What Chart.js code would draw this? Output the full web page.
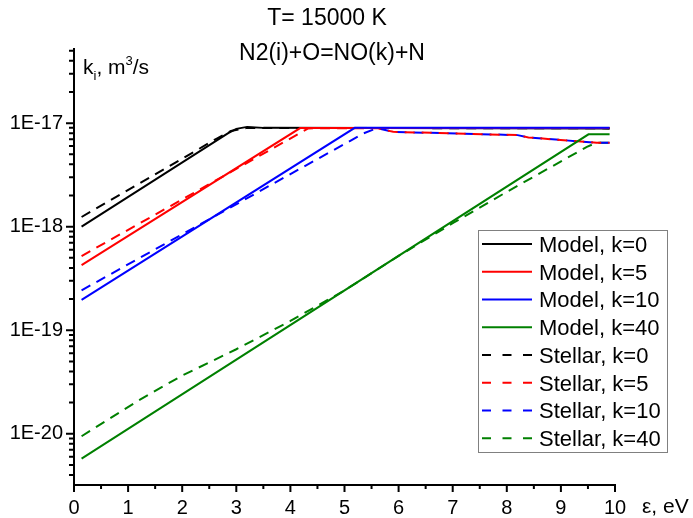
<!DOCTYPE html>
<html>
<head>
<meta charset="utf-8">
<script src="https://cdn.jsdelivr.net/npm/chart.js@4.4.1/dist/chart.umd.min.js"></script>
<style>
  html, body { margin: 0; padding: 0; background: #fff; }
  #wrap { width: 693px; height: 518px; position: relative; }
</style>
</head>
<body>
<div id="wrap"><canvas id="c" width="693" height="518"></canvas></div>
<script>
// energies (eV) and rate coefficients (m^3/s)
const eModel0 = [0.14, 2.85, 3.00, 3.20, 3.50, 9.90];
const kModel0 = [1.0e-18, 8.0e-18, 8.8e-18, 9.2e-18, 9.0e-18, 8.9e-18];

const eModel5 = [0.14, 4.18, 9.90];
const kModel5 = [4.25e-19, 8.95e-18, 8.95e-18];

const eModel10 = [0.14, 5.19, 9.90];
const kModel10 = [1.96e-19, 9.0e-18, 9.0e-18];

const eModel40 = [0.14, 9.51, 9.90];
const kModel40 = [5.75e-21, 7.8e-18, 7.8e-18];

const eStellar0 = [0.14, 2.64, 2.90, 3.20, 9.90];
const kStellar0 = [1.24e-18, 7.1e-18, 8.4e-18, 9.0e-18, 8.9e-18];

const eStellar5 = [0.14, 4.33, 5.60, 5.90, 8.20, 8.40, 9.66, 9.90];
const kStellar5 = [5.2e-19, 8.9e-18, 8.95e-18, 8.24e-18, 7.66e-18, 7.28e-18, 6.46e-18, 6.46e-18];

const eStellar10 = [0.14, 5.35, 5.60, 5.90, 8.20, 8.40, 9.66, 9.90];
const kStellar10 = [2.43e-19, 7.95e-18, 8.95e-18, 8.24e-18, 7.66e-18, 7.28e-18, 6.46e-18, 6.46e-18];

const eStellar40 = [0.14, 1.2, 2.0, 3.0, 4.0, 5.0, 6.0, 7.0, 8.0, 8.55, 9.48, 9.66, 9.90];
const kStellar40 = [9.46e-21, 2.11e-20, 3.65e-20, 6.55e-20, 1.23e-19, 2.42e-19, 5.22e-19, 1.08e-18, 2.17e-18, 3.15e-18, 5.90e-18, 6.46e-18, 6.46e-18];

const xTicks = [0, 1, 2, 3, 4, 5, 6, 7, 8, 9, 10];

const FONT = "'Liberation Sans', Arial, sans-serif";
const BLACK = '#000000', RED = '#ff0000', BLUE = '#0000ff', GREEN = '#008000';
const DASH = [10, 7];

const pts = (xs, ys) => xs.map((x, i) => ({ x, y: ys[i] }));

const series = [
  { label: 'Model, k=0',   data: pts(eModel0, kModel0),     color: BLACK, dash: [], order: 2 },
  { label: 'Model, k=5',   data: pts(eModel5, kModel5),     color: RED,   dash: [], order: 1 },
  { label: 'Model, k=10',  data: pts(eModel10, kModel10),   color: BLUE,  dash: [], order: 0 },
  { label: 'Model, k=40',  data: pts(eModel40, kModel40),   color: GREEN, dash: [], order: 3 },
  { label: 'Stellar, k=0', data: pts(eStellar0, kStellar0), color: BLACK, dash: DASH, order: 4 },
  { label: 'Stellar, k=5', data: pts(eStellar5, kStellar5), color: RED,   dash: DASH, order: 5 },
  { label: 'Stellar, k=10',data: pts(eStellar10, kStellar10), color: BLUE, dash: DASH, order: 6 },
  { label: 'Stellar, k=40',data: pts(eStellar40, kStellar40), color: GREEN, dash: DASH, order: 7 },
];

// titles, axis names, tick marks and the boxed legend (Origin look)
const decor = {
  id: 'decor',
  afterDraw(chart) {
    const ctx = chart.ctx;
    const xs = chart.scales.x, ys = chart.scales.y;
    const area = chart.chartArea;
    ctx.save();
    ctx.fillStyle = '#000';
    ctx.strokeStyle = '#000';

    // tick marks
    ctx.lineWidth = 2;
    ctx.beginPath();
    for (let v = 0; v <= 10.001; v += 0.5) {
      const px = xs.getPixelForValue(v);
      const len = Math.abs(v - Math.round(v)) < 1e-6 ? 7 : 4;
      ctx.moveTo(px, area.bottom);
      ctx.lineTo(px, area.bottom + len);
    }
    for (let p = -22; p <= -16; p++) {
      for (let m = 1; m <= 9; m++) {
        const val = m * Math.pow(10, p);
        if (val < ys.min || val > ys.max) continue;
        const py = ys.getPixelForValue(val);
        const len = m === 1 ? 8 : 5;
        ctx.moveTo(area.left, py);
        ctx.lineTo(area.left - len, py);
      }
    }
    ctx.stroke();

    // chart titles
    ctx.textAlign = 'center';
    ctx.textBaseline = 'alphabetic';
    ctx.font = '23px ' + FONT;
    ctx.fillText('T= 15000 K', 327, 25);
    ctx.fillText('N2(i)+O=NO(k)+N', 332, 60);

    // y axis name: k_i, m^3/s
    ctx.textAlign = 'left';
    let x = 83;
    const big = '21px ' + FONT, small = '13px ' + FONT;
    const put = (t, f, y) => { ctx.font = f; ctx.fillText(t, x, y); x += ctx.measureText(t).width; };
    put('k', big, 74);
    put('i', small, 80);
    put(', m', big, 74);
    put('3', small, 65);
    put('/s', big, 74);

    // x axis name
    ctx.font = '21px ' + FONT;
    ctx.fillText('\u03b5, eV', 642, 513);

    // legend
    const lx = 478.5, ly = 230.5, lw = 189, lh = 222;
    ctx.fillStyle = '#fff';
    ctx.fillRect(lx, ly, lw, lh);
    ctx.strokeStyle = '#808080';
    ctx.lineWidth = 1;
    ctx.setLineDash([]);
    ctx.strokeRect(lx, ly, lw, lh);
    ctx.font = '22px ' + FONT;
    chart.data.datasets.forEach((ds, i) => {
      const cy = 244 + i * 27.76;
      ctx.strokeStyle = ds.borderColor;
      ctx.lineWidth = 2;
      ctx.setLineDash(ds.borderDash.length ? [9, 11.5] : []);
      ctx.beginPath();
      ctx.moveTo(482, cy);
      ctx.lineTo(532, cy);
      ctx.stroke();
      ctx.setLineDash([]);
      ctx.fillStyle = '#000';
      ctx.fillText(ds.label, 539, cy + 7.9);
    });
    ctx.restore();
  }
};

new Chart(document.getElementById('c'), {
  type: 'line',
  data: {
    datasets: series.map(s => ({
      label: s.label,
      data: s.data,
      borderColor: s.color,
      backgroundColor: s.color,
      borderDash: s.dash,
      borderWidth: 2,
      pointRadius: 0,
      tension: 0,
      fill: false,
      order: s.order
    }))
  },
  options: {
    responsive: false,
    animation: false,
    events: [],
    layout: { padding: { left: 0, right: 78, top: 49, bottom: 0 } },
    plugins: { legend: { display: false }, tooltip: { enabled: false }, title: { display: false } },
    scales: {
      x: {
        type: 'linear',
        min: 0, max: 10,
        afterFit: s => { s.height = 33; },
        afterBuildTicks: s => { s.ticks = xTicks.map(v => ({ value: v })); },
        ticks: { color: '#000', font: { family: FONT, size: 20 }, padding: 11, maxRotation: 0, autoSkip: false },
        grid: { drawOnChartArea: false, drawTicks: false },
        border: { color: '#000', width: 2 }
      },
      y: {
        type: 'logarithmic',
        min: 3.2e-21, max: 5.2e-17,
        afterFit: s => { s.width = 74; },
        ticks: {
          color: '#000', font: { family: FONT, size: 20 }, padding: 11, autoSkip: false,
          callback: v => {
            const l = Math.log10(v);
            return Math.abs(l - Math.round(l)) < 1e-6 ? '1E' + Math.round(l) : '';
          }
        },
        grid: { drawOnChartArea: false, drawTicks: false },
        border: { color: '#000', width: 2 }
      }
    }
  },
  plugins: [decor]
});
</script>
</body>
</html>
